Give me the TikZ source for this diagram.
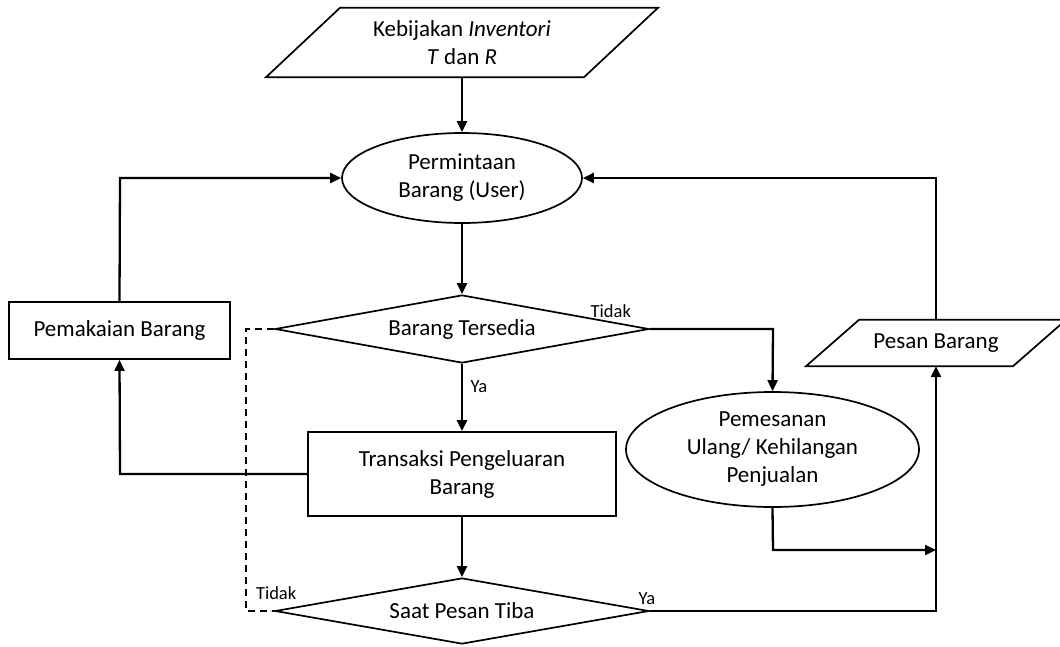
\documentclass[tikz,border=0pt]{standalone}
\usepackage{fontspec}
\setmainfont{Carlito}
\usetikzlibrary{shapes.geometric,arrows.meta,calc}
\begin{document}
\begin{tikzpicture}[x=1pt,y=-1pt,
  txt/.style={font=\fontsize{23}{28}\selectfont, align=center, inner sep=0pt},
  shp/.style={draw, line width=1.7pt},
  boxn/.style={txt, shp, rectangle},
  elln/.style={txt, shp, ellipse},
  dian/.style={txt, shp, diamond, aspect=5.5},
  plainn/.style={txt, rectangle},
  conn/.style={line width=2.3pt, -{Triangle[length=11pt,width=10pt]}},
  line/.style={line width=2.3pt},
  dashline/.style={line width=1.6pt, dash pattern=on 7pt off 5pt},
  lbl/.style={font=\fontsize{18.5}{22}\selectfont, inner sep=0pt}
]
\path[use as bounding box] (0,0) rectangle (1060,646);
\clip (0,0) rectangle (1060,646);

% nodes
\node[plainn, minimum width=300pt, minimum height=69pt] (k) at (462,42.5)
  {Kebijakan \textit{Inventori}\\\textit{T} dan \textit{R}};
\draw[shp] ($(k.north)+(-122,0)$) -- ($(k.north)+(196,0)$)
  -- ($(k.south)+(122,0)$) -- ($(k.south)+(-196,0)$) -- cycle;

\node[elln, minimum width=240pt, minimum height=90pt] (p) at (462,178)
  {Permintaan\\Barang (User)};

\node[dian, minimum width=374pt, minimum height=68pt] (d1) at (462,329)
  {Barang Tersedia};

\node[boxn, minimum width=308pt, minimum height=84pt] (t) at (462,474)
  {Transaksi Pengeluaran\\Barang};

\node[dian, minimum width=374pt, minimum height=66pt] (d2) at (462,611)
  {Saat Pesan Tiba};

\node[boxn, minimum width=221pt, minimum height=57pt] (pk) at (119.5,330.5)
  {Pemakaian Barang};

\node[elln, minimum width=293pt, minimum height=115pt] (pu) at (772.5,449.5)
  {Pemesanan\\Ulang/ Kehilangan\\Penjualan};

\node[plainn, minimum width=150pt, minimum height=46pt] (ps) at (936,343)
  {Pesan Barang};
\draw[shp] ($(ps.north)+(-77,0)$) -- ($(ps.north)+(130,0)$)
  -- ($(ps.south)+(77,0)$) -- ($(ps.south)+(-130,0)$) -- cycle;

% helper coordinates
\coordinate (c1) at (773,329);
\coordinate (c2) at (773,550);
\coordinate (c3) at (936,550);
\coordinate (c4) at (936,611);
\coordinate (c5) at (936,178);
\coordinate (c6) at (120,474);
\coordinate (c7) at (120,178);
\coordinate (c8) at (246,329);
\coordinate (c9) at (246,611);

% connectors
\draw[conn] (k.south) -- (p.north);
\draw[conn] (p.south) -- (d1.north);
\draw[conn] (d1.south) -- (t.north);
\draw[conn] (t.south) -- (d2.north);
\draw[conn] (d1.east) -- (c1) -- (pu.north);
\draw[conn] (pu.south) -- (c2) -- (c3);
\draw[conn] (d2.east) -- (c4) -- (ps.south);
\draw[conn] (ps.north) -- (c5) -- (p.east);
\draw[conn] (t.west) -- (c6) -- (pk.south);
\draw[conn] (pk.north) -- (c7) -- (p.west);
\draw[dashline] (d1.west) -- (c8) -- (c9) -- (d2.west);

% labels
\node[lbl] (l1) at ([shift={(-39,-18)}]d1.east) {Tidak};
\node[lbl] (l2) at ([shift={(17,23)}]d1.south) {Ya};
\node[lbl] (l3) at ([shift={(-3,-12)}]d2.east) {Ya};
\node[lbl] (l4) at ([shift={(2,-18)}]d2.west) {Tidak};
\end{tikzpicture}
\end{document}
